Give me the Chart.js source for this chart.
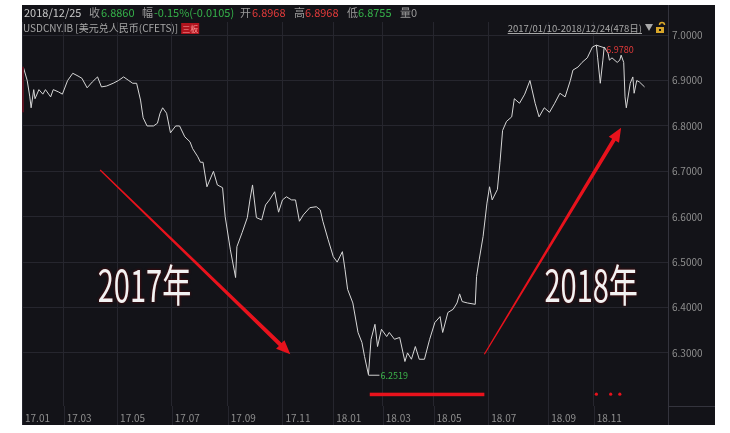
<!DOCTYPE html>
<html><head><meta charset="utf-8">
<script src="https://cdn.jsdelivr.net/npm/chart.js@4/dist/chart.umd.min.js"></script>
<style>html,body{margin:0;padding:0;background:#fff;}#wrap{width:730px;height:433px;}</style>
</head><body><div id="wrap"><canvas id="c" width="730" height="433"></canvas></div>
<script>
// trading-day index since 2017/01/10 and USD/CNY close
const tradingDay = [
  0,3,5,6,8,9,12,15,17,21,
  23,27,30,34,38,42,45,49,53,57,
  60,64,69,73,77,81,84,87,90,92,
  95,100,103,105,107,110,113,117,120,124,
  128,130,134,136,138,141,146,149,153,155,
  159,163,164,168,172,174,176,179,183,186,
  189,193,196,199,202,206,209,212,215,220,
  225,228,230,234,238,241,245,247,249,253,
  257,260,262,265,267,270,272,275,279,281,
  285,289,293,295,298,301,304,308,312,316,
  320,322,326,330,333,335,337,341,347,348,
  350,353,356,358,360,364,366,368,371,375,
  377,381,385,389,393,396,400,404,408,412,
  416,420,422,426,429,433,437,440,441,443,
  445,446,449,450,452,456,458,459,461,462,
  463,466,468,469,471,473,477
];
const rate = [
  6.930,6.900,6.864,6.840,6.880,6.860,6.880,6.870,6.880,6.864,
  6.880,6.875,6.870,6.900,6.916,6.910,6.905,6.884,6.897,6.908,
  6.886,6.888,6.894,6.900,6.908,6.900,6.894,6.894,6.857,6.818,
  6.800,6.800,6.806,6.828,6.840,6.828,6.785,6.800,6.800,6.776,
  6.765,6.750,6.732,6.720,6.720,6.666,6.700,6.670,6.664,6.600,
  6.527,6.466,6.534,6.565,6.598,6.637,6.670,6.598,6.593,6.626,
  6.637,6.655,6.610,6.637,6.644,6.637,6.637,6.590,6.604,6.620,
  6.622,6.615,6.590,6.550,6.512,6.500,6.523,6.484,6.440,6.410,
  6.345,6.323,6.292,6.2519,6.330,6.363,6.314,6.352,6.336,6.345,
  6.330,6.334,6.281,6.300,6.286,6.314,6.286,6.286,6.330,6.367,
  6.380,6.345,6.389,6.396,6.410,6.430,6.413,6.410,6.407,6.468,
  6.505,6.556,6.630,6.666,6.637,6.660,6.720,6.790,6.810,6.820,
  6.860,6.850,6.870,6.900,6.850,6.820,6.840,6.830,6.850,6.872,
  6.864,6.900,6.923,6.930,6.940,6.950,6.974,6.978,6.950,6.894,
  6.945,6.974,6.960,6.945,6.950,6.940,6.945,6.956,6.940,6.864,
  6.840,6.894,6.908,6.872,6.900,6.897,6.886
];
const tickDays   = [-1,31,72,114,157,199,238,276,315,357,403,438];
const tickLabels = ['17.01','17.03','17.05','17.07','17.09','17.11','18.01','18.03','18.05','18.07','18.09','18.11'];
const yTicks = [6.3,6.4,6.5,6.6,6.7,6.8,6.9,7.0];
const maxValueLabel = '6.9780';
const minValueLabel = '6.2519';
const headerRow1 = [
  ['2018/12/25','#c8c8c8',24],['收','#9a9a9a',89],['6.8860','#35b24a',101],
  ['幅','#9a9a9a',142],['-0.15%(-0.0105)','#35b24a',154],['开','#9a9a9a',240],
  ['6.8968','#e03a3a',252],['高','#9a9a9a',294],['6.8968','#e03a3a',305],
  ['低','#9a9a9a',347],['6.8755','#35b24a',358],['量0','#9a9a9a',400]
];
const instrumentText = 'USDCNY.IB [美元兑人民币(CFETS)]';
const boardTag = '三板';
const rangeText = '2017/01/10-2018/12/24(478日)';
const bigLabels = [['2017年',93,6.448],['2018年',436,6.448]];
const arrows = [[59,6.703,205,6.297],[354,6.297,459,6.796]];
const redBar = [266,354,6.209];
const redDots = [440,451,458];

const FONT = '"Noto Sans CJK SC","Noto Sans",sans-serif';

const bgPlugin = {
  id:'bg',
  beforeDraw(chart){
    const c = chart.ctx;
    c.save();
    c.fillStyle='#ffffff'; c.fillRect(0,0,730,433);
    c.fillStyle='#131318'; c.fillRect(22,5,693,420);
    c.restore();
  }
};

const annotPlugin = {
  id:'annot',
  afterDraw(chart){
    const c = chart.ctx, xs = chart.scales.x, ys = chart.scales.y, ca = chart.chartArea;
    const X = v=>xs.getPixelForValue(v), Y = v=>ys.getPixelForValue(v);
    c.save();
    c.strokeStyle='#26262e'; c.lineWidth=1;
    tickDays.forEach(d=>{ const px=Math.round(X(d))+0.5; c.beginPath(); c.moveTo(px,ca.bottom); c.lineTo(px,425); c.stroke(); });
    c.strokeStyle='#34343d';
    c.beginPath(); c.moveTo(ca.right+0.5,5); c.lineTo(ca.right+0.5,425); c.stroke();
    c.beginPath(); c.moveTo(ca.right,ca.bottom+0.5); c.lineTo(715,ca.bottom+0.5); c.stroke();
    c.fillStyle='#5a1220'; c.fillRect(22,Y(6.93),2,Y(6.83)-Y(6.93));

    c.textBaseline='middle'; c.textAlign='left';
    c.font='11px '+FONT;
    headerRow1.forEach(([t,col,x])=>{ c.fillStyle=col; c.fillText(t,x,13); });
    c.font='10px '+FONT;
    c.fillStyle='#a8a8a8'; c.fillText(instrumentText,23,28);
    const iw = c.measureText(instrumentText).width;
    const bx = 23+iw+3;
    c.fillStyle='#b0141e'; c.fillRect(bx,23,18,11);
    c.font='8px '+FONT; c.fillStyle='#ff9a9a'; c.fillText(boardTag,bx+1,28.5);
    c.font='9.5px '+FONT; c.textAlign='right'; c.fillStyle='#a8a8a8';
    c.fillText(rangeText,642,28);
    const rw = c.measureText(rangeText).width;
    c.fillRect(642-rw,33,rw,1);
    c.beginPath(); c.moveTo(645,24); c.lineTo(653,24); c.lineTo(649,31); c.closePath(); c.fill();
    c.fillStyle='#d8a62a'; c.fillRect(656,27,8,6);
    c.strokeStyle='#d8a62a'; c.lineWidth=1.5;
    c.beginPath(); c.arc(662,25,2.5,Math.PI,0); c.stroke();
    c.fillStyle='#131318'; c.fillRect(659,29,2,2);

    let iMax=0,iMin=0;
    rate.forEach((v,i)=>{ if(v>rate[iMax]) iMax=i; if(v<rate[iMin]) iMin=i; });
    const mx=X(tradingDay[iMax]), my=Y(rate[iMax]);
    c.strokeStyle='#cfcfcf'; c.lineWidth=1;
    c.beginPath(); c.moveTo(mx,my); c.lineTo(mx+9,my+3); c.stroke();
    c.font='9px '+FONT; c.textAlign='left'; c.fillStyle='#e33a3a';
    c.fillText(maxValueLabel,mx+10,my+4);
    const nx=X(tradingDay[iMin]), ny=Y(rate[iMin]);
    c.beginPath(); c.moveTo(nx,ny+0.5); c.lineTo(nx+11,ny+0.5); c.stroke();
    c.fillStyle='#3cb34a'; c.fillText(minValueLabel,nx+12,ny+1);

    c.fillStyle='#e8121c';
    arrows.forEach(([d0,v0,d1,v1])=>{
      const x0=X(d0),y0=Y(v0),x1=X(d1),y1=Y(v1);
      const dx=x1-x0, dy=y1-y0, L=Math.hypot(dx,dy), ux=dx/L, uy=dy/L, px=-uy, py=ux;
      const hl=14, hw=6, bx2=x1-ux*hl, by2=y1-uy*hl;
      c.beginPath();
      c.moveTo(x0+px*0.6,y0+py*0.6);
      c.lineTo(bx2+px*2,by2+py*2);
      c.lineTo(bx2+px*hw,by2+py*hw);
      c.lineTo(x1,y1);
      c.lineTo(bx2-px*hw,by2-py*hw);
      c.lineTo(bx2-px*2,by2-py*2);
      c.lineTo(x0-px*0.6,y0-py*0.6);
      c.closePath(); c.fill();
    });
    const ry=Y(redBar[2]);
    c.fillRect(X(redBar[0]),ry-1.5,X(redBar[1])-X(redBar[0]),3.5);
    redDots.forEach(d=>{ c.beginPath(); c.arc(X(d),ry,1.6,0,Math.PI*2); c.fill(); });

    bigLabels.forEach(([t,d,v])=>{
      c.save();
      c.translate(X(d),Y(v));
      c.scale(0.66,1);
      c.font='400 44px '+FONT; c.textAlign='center'; c.textBaseline='middle';
      c.shadowColor='rgba(120,0,0,0.8)'; c.shadowBlur=3;
      c.fillStyle='#f2f2f2'; c.fillText(t,0,0);
      c.restore();
    });
    c.restore();
  }
};

new Chart(document.getElementById('c'),{
  type:'line',
  data:{datasets:[{
    data: tradingDay.map((d,i)=>({x:d,y:rate[i]})),
    borderColor:'#d6d6d6', borderWidth:1, pointRadius:0, tension:0, fill:false
  }]},
  options:{
    responsive:false, animation:false, devicePixelRatio:1,
    layout:{padding:{left:22,top:22,right:0,bottom:0}},
    plugins:{legend:{display:false},tooltip:{enabled:false},title:{display:false}},
    scales:{
      x:{
        type:'linear', min:-1, max:495,
        afterBuildTicks:s=>{ s.ticks = tickDays.map(v=>({value:v})); },
        afterFit:s=>{ s.height=27; },
        ticks:{autoSkip:false,maxRotation:0,minRotation:0,align:'start',labelOffset:3,padding:6,
          color:'#8e8e8e',font:{size:10,family:FONT},
          callback:v=>{ const i=tickDays.indexOf(v); return i>=0?tickLabels[i]:''; }},
        grid:{color:'#26262e',drawTicks:false},
        border:{display:false}
      },
      y:{
        position:'right', min:6.183, max:7.029,
        afterBuildTicks:s=>{ s.ticks = yTicks.map(v=>({value:v})); },
        afterFit:s=>{ s.width=62; },
        ticks:{padding:4,color:'#8e8e8e',font:{size:10,family:FONT},callback:v=>Number(v).toFixed(4)},
        grid:{color:'#26262e',drawTicks:false},
        border:{display:false}
      }
    }
  },
  plugins:[bgPlugin,annotPlugin]
});
</script>
</body></html>
